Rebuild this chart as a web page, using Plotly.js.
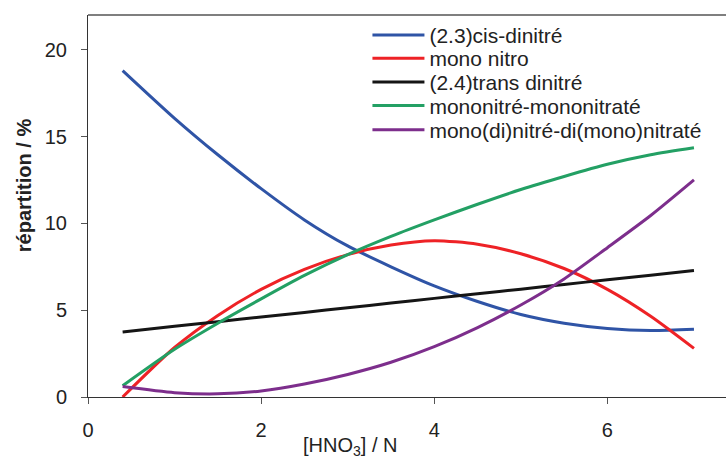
<!DOCTYPE html>
<html>
<head>
<meta charset="utf-8">
<script src="https://cdn.plot.ly/plotly-3.0.1.min.js"></script>
<style>html,body{margin:0;padding:0;background:#fff;}#chart{width:726px;height:459px;}</style>
</head>
<body>
<div id="chart"></div>
<script>
var xValues = [0.4, 1, 1.5, 2, 2.5, 3, 3.5, 4, 4.5, 5, 5.5, 6, 6.5, 7];
var cisDinitre = [18.8, 16.05, 13.95, 12.0, 10.2, 8.7, 7.5, 6.4, 5.5, 4.75, 4.25, 3.95, 3.83, 3.9];
var monoNitro = [0.0, 2.85, 4.7, 6.2, 7.35, 8.2, 8.75, 9.0, 8.8, 8.25, 7.4, 6.2, 4.65, 2.8];
var transDinitre = [3.75, 4.07, 4.34, 4.61, 4.87, 5.14, 5.41, 5.68, 5.94, 6.21, 6.48, 6.75, 7.01, 7.28];
var mononitreMononitrate = [0.65, 2.75, 4.25, 5.65, 7.0, 8.2, 9.25, 10.2, 11.1, 11.95, 12.7, 13.4, 13.95, 14.35];
var monoDiNitre = [0.6, 0.25, 0.18, 0.35, 0.75, 1.3, 2.0, 2.9, 4.0, 5.3, 6.8, 8.6, 10.45, 12.5];
var seriesNames = ["(2.3)cis-dinitré", "mono nitro", "(2.4)trans dinitré", "mononitré-mononitraté", "mono(di)nitré-di(mono)nitraté"];
var seriesColors = ["#2f54a6", "#ee2226", "#151515", "#23a064", "#7d2e8c"];
var xTicks = [0, 2, 4, 6];
var yTicks = [0, 5, 10, 15, 20];

var allY = [cisDinitre, monoNitro, transDinitre, mononitreMononitrate, monoDiNitre];
var legendIds = ['legend', 'legend2', 'legend3', 'legend4', 'legend5'];
var legendRowsY = [0.947, 0.886, 0.824, 0.762, 0.699];

var traces = allY.map(function (ys, i) {
  return {
    x: xValues, y: ys, name: seriesNames[i], type: 'scatter', mode: 'lines',
    legend: legendIds[i],
    line: {color: seriesColors[i], width: 3, shape: 'spline', smoothing: 0.7}
  };
});

var fontFam = '"Liberation Sans", Arial, Helvetica, sans-serif';
var layout = {
  width: 726, height: 459,
  margin: {l: 88, r: 0, t: 15, b: 62},
  paper_bgcolor: '#fff', plot_bgcolor: '#fff',
  font: {family: fontFam, color: '#222'},
  showlegend: true,
  xaxis: {
    range: [0, 7.37], tickvals: xTicks, ticktext: xTicks.map(String),
    showgrid: false, zeroline: false, showline: true, linecolor: '#333', linewidth: 1,
    ticks: 'outside', ticklen: 6, tickcolor: '#555', tickwidth: 1,
    tickfont: {size: 20, family: fontFam, color: '#222'}, ticklabelstandoff: 9
  },
  yaxis: {
    range: [0, 22], tickvals: yTicks, ticktext: yTicks.map(String),
    showgrid: false, zeroline: false, showline: true, linecolor: '#333', linewidth: 1,
    ticks: 'outside', ticklen: 6, tickcolor: '#555', tickwidth: 1,
    tickfont: {size: 20, family: fontFam, color: '#222'}, ticklabelstandoff: 10
  },
  shapes: [{type: 'line', xref: 'paper', yref: 'paper', x0: 0, x1: 1, y0: 1, y1: 1,
            line: {color: '#555', width: 1.5}}],
  annotations: [
    {text: '[HNO<sub>3</sub>] / N', xref: 'paper', yref: 'paper', x: 0.41, y: -0.13,
     xanchor: 'center', yanchor: 'middle', showarrow: false,
     font: {size: 20, family: fontFam, color: '#222'}},
    {text: '<b>répartition / %</b>', xref: 'paper', yref: 'paper', x: -0.1, y: 0.555,
     xanchor: 'center', yanchor: 'middle', textangle: -90, showarrow: false,
     font: {size: 20, family: fontFam, color: '#222'}}
  ]
};
legendIds.forEach(function (id, i) {
  layout[id] = {
    x: 0.438, y: legendRowsY[i], xanchor: 'left', yanchor: 'middle',
    font: {size: 21, family: fontFam, color: '#222'},
    bgcolor: 'rgba(0,0,0,0)', itemwidth: 52, borderwidth: 0
  };
});
Plotly.newPlot('chart', traces, layout, {displayModeBar: false, staticPlot: true});
</script>
</body>
</html>
